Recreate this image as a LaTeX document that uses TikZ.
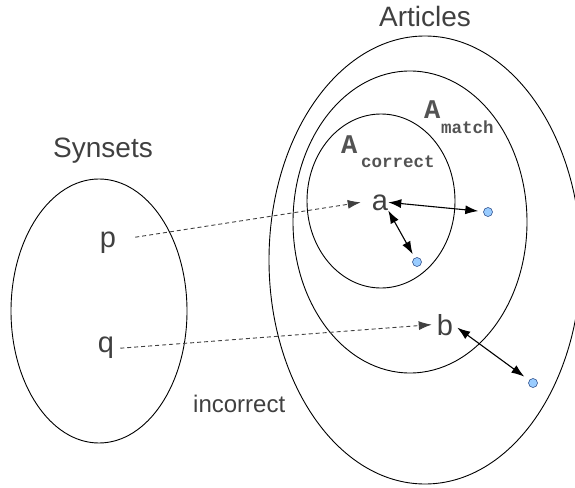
\documentclass[tikz,border=0pt]{standalone}
\usepackage{fontspec}
\setmainfont{Liberation Sans}
\newfontfamily\courfont{Liberation Mono}
\usetikzlibrary{arrows.meta}
\definecolor{txt}{HTML}{404040}
\definecolor{dotfill}{HTML}{99CCFF}
\definecolor{dotline}{HTML}{1F3F7F}
\tikzset{
  setline/.style={draw=black, line width=0.9pt},
  lbl/.style={text=txt, inner sep=0pt, anchor=base, font=\fontsize{29}{34}\selectfont},
  title/.style={text=txt, inner sep=0pt, anchor=base, font=\fontsize{28}{33}\selectfont},
  bigA/.style={text=txt!90, inner sep=0pt, anchor=base west, font=\courfont\bfseries\fontsize{27}{32}\selectfont},
  subA/.style={text=txt!90, inner sep=0pt, anchor=base west, font=\courfont\bfseries\fontsize{17.5}{20}\selectfont},
  dotnode/.style={circle, minimum size=9pt, inner sep=0pt, fill=dotfill, draw=dotline, line width=0.5pt},
  maparrow/.style={draw=txt, line width=0.9pt, dash pattern=on 4pt off 3pt, -{Latex[length=13pt,width=9pt]}},
  simarrow/.style={draw=black, line width=1.1pt, {Latex[length=13pt,width=9pt]}-{Latex[length=13pt,width=9pt]}}
}
\begin{document}
\begin{tikzpicture}[x=1pt,y=-1pt]
\useasboundingbox (0,0) rectangle (575,487);
% sets
\draw[setline] (99,311) ellipse [x radius=88, y radius=132];
\draw[setline] (425,260) ellipse [x radius=156, y radius=224];
\draw[setline] (410,222) ellipse [x radius=117, y radius=151];
\draw[setline] (381,201) ellipse [x radius=74, y radius=87];
% titles
\node[title] (synsets) at (103,157) {Synsets};
\node[title] (articles) at (425,27) {Articles};
\node[text=txt, inner sep=0pt, anchor=base west, font=\fontsize{24}{28}\selectfont] (incorrect) at (193,412) {incorrect};
\node[bigA] (Ac) at (341,153) {A};
\node[subA] (Acsub) at (361,167) {correct};
\node[bigA] (Am) at (424,118) {A};
\node[subA] (Amsub) at (441,133) {match};
% elements
\node[lbl] (p) at (108,247) {p};
\node[lbl] (q) at (106,352) {q};
\node[lbl] (a) at (380,210) {a};
\node[lbl] (b) at (445,335) {b};
\node[dotnode] (d1) at (488,212) {};
\node[dotnode] (d2) at (417,262) {};
\node[dotnode] (d3) at (533,383) {};
% mappings
\draw[maparrow] ([shift={(19pt,5pt)}]p.east) -- ([xshift=-11pt]a.west);
\draw[maparrow] ([shift={(6pt,-1pt)}]q.east) -- ([xshift=-5pt]b.west);
% similarity arrows
\draw[simarrow, shorten >=5pt] (a.east) -- (d1);
\draw[simarrow, shorten >=4pt] (a.south east) -- (d2);
\draw[simarrow, shorten >=6pt] ([shift={(4pt,-3pt)}]b.east) -- (d3);
\end{tikzpicture}
\end{document}
